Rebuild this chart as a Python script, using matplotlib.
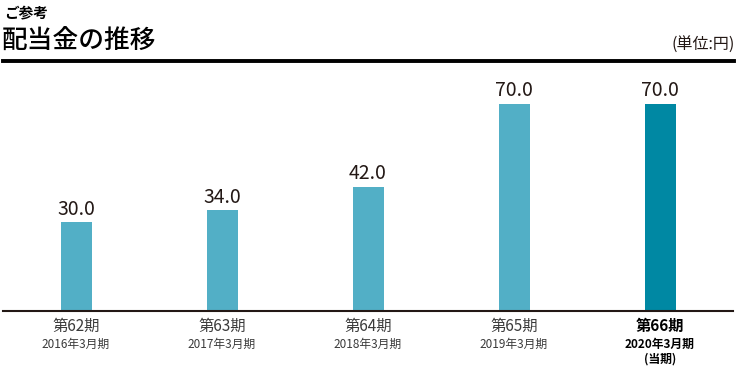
import matplotlib
matplotlib.use("Agg")
import matplotlib.pyplot as plt
from matplotlib.lines import Line2D

plt.rcParams['font.family'] = ['Noto Sans CJK JP', 'DejaVu Sans']

periods = ["第62期", "第63期", "第64期", "第65期", "第66期"]
years = ["2016年3月期", "2017年3月期", "2018年3月期", "2019年3月期", "2020年3月期"]
dividends = [30.0, 34.0, 42.0, 70.0, 70.0]
colors = ["#52afc6", "#52afc6", "#52afc6", "#52afc6", "#0088a3"]

W, H = 738, 368
fig = plt.figure(figsize=(W / 100, H / 100), dpi=100)

def fx(px):
    return px / W

def fy(py):
    return 1 - py / H

ax_left, ax_right = 3, 733
ax_bottom, ax_top = 311, 70
ax = fig.add_axes([fx(ax_left), fy(ax_bottom), fx(ax_right - ax_left), (ax_bottom - ax_top) / H])
x = list(range(len(dividends)))
ax.bar(x, dividends, width=31 / 146, color=colors, zorder=2)
ax.set_xlim(-0.5, len(dividends) - 0.5)
ax.set_ylim(0, (ax_bottom - ax_top) / 2.957)
for s in ["top", "right", "left"]:
    ax.spines[s].set_visible(False)
ax.spines["bottom"].set_color("#231815")
ax.spines["bottom"].set_linewidth(1.5)
ax.set_yticks([])
ax.set_xticks([])

for i, v in enumerate(dividends):
    ax.annotate(f"{v:.1f}", (i, v), xytext=(0, 2), textcoords="offset points",
                ha="center", va="bottom", fontsize=14, color="#231815")

for i in x:
    last = i == len(x) - 1
    fw = "bold" if last else "normal"
    col = "#000000" if last else "#3a3a3a"
    ax.annotate(periods[i], (i, 0), xycoords=("data", "axes fraction"),
                xytext=(0, -5), textcoords="offset points", ha="center", va="top",
                fontsize=11, fontweight=fw, color=col)
    ax.annotate(years[i], (i, 0), xycoords=("data", "axes fraction"),
                xytext=(0, -19.5), textcoords="offset points", ha="center", va="top",
                fontsize=8.5, fontweight=fw, color=col)
    if last:
        ax.annotate("(当期)", (i, 0), xycoords=("data", "axes fraction"),
                    xytext=(0, -30), textcoords="offset points", ha="center", va="top",
                    fontsize=8.5, fontweight=fw, color=col)

fig.text(fx(4), fy(12), "ご参考", fontsize=10.5, fontweight="bold", va="center", ha="left", color="#000000")
fig.text(fx(2), fy(41), "配当金の推移", fontsize=18.5, fontweight="medium", va="center", ha="left", color="#000000")
fig.text(fx(735), fy(45), "(単位:円)", fontsize=11.5, va="center", ha="right", color="#231815")
fig.add_artist(Line2D([fx(3), fx(734)], [fy(60.5), fy(60.5)], transform=fig.transFigure,
                      color="#000000", linewidth=2.8))

fig.savefig("out.png", dpi=100)
